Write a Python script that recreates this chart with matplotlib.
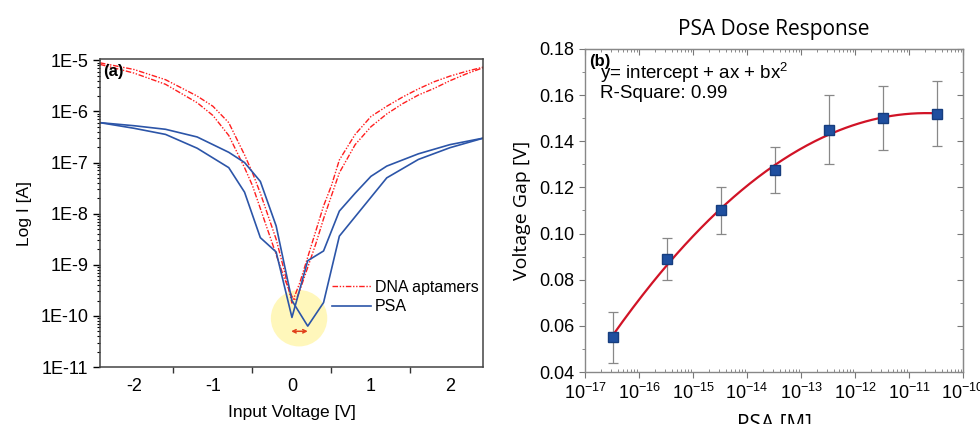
import numpy as np
import matplotlib
matplotlib.use("Agg")
import matplotlib.pyplot as plt
from matplotlib.ticker import FixedLocator, NullFormatter, FuncFormatter, LogLocator, MultipleLocator

plt.rcParams['font.family'] = ['Liberation Sans', 'DejaVu Sans']
plt.rcParams['mathtext.default'] = 'regular'
plt.rcParams['axes.unicode_minus'] = False

# ---- panel (a): I-V sweeps, log10 of current ----
v_blue = [-2.43, -2.0, -1.6, -1.2, -0.8, -0.6, -0.4, -0.2, 0.0, 0.2, 0.4, 0.6, 0.8, 1.0, 1.2, 1.6, 2.0, 2.43]
psa_a = [-6.22, -6.33, -6.45, -6.72, -7.10, -7.58, -8.47, -8.75, -10.03, -8.92, -8.73, -7.95, -7.60, -7.27, -7.07, -6.83, -6.65, -6.52]
psa_b = [-6.22, -6.28, -6.35, -6.50, -6.80, -7.00, -7.37, -8.24, -9.70, -10.20, -9.74, -8.44, -8.06, -7.68, -7.30, -6.94, -6.71, -6.52]

v_red = [-2.43, -2.0, -1.6, -1.2, -1.0, -0.8, -0.6, -0.5, -0.4, -0.3, -0.2, -0.1, 0.0, 0.05, 0.1, 0.2, 0.3, 0.4,
         0.5, 0.6, 0.8, 1.0, 1.2, 1.4, 1.6, 1.8, 2.0, 2.2, 2.43]
dna_a = [-5.05, -5.18, -5.38, -5.70, -5.90, -6.22, -6.85, -7.20, -7.60, -8.05, -8.50, -9.10, -9.75, -9.55, -9.35,
         -8.85, -8.35, -7.85, -7.45, -6.95, -6.45, -6.10, -5.90, -5.72, -5.56, -5.42, -5.31, -5.22, -5.13]
dna_b = [-5.08, -5.25, -5.47, -5.83, -6.08, -6.47, -7.10, -7.45, -7.90, -8.35, -8.80, -9.25, -9.62, -9.70, -9.50,
         -9.05, -8.60, -8.10, -7.65, -7.20, -6.65, -6.30, -6.05, -5.85, -5.68, -5.55, -5.40, -5.27, -5.14]

# ---- panel (b): dose response ----
psa_conc = [3.3e-17, 3.3e-16, 3.3e-15, 3.3e-14, 3.3e-13, 3.3e-12, 3.3e-11]
v_gap = [0.055, 0.089, 0.110, 0.1274, 0.145, 0.150, 0.152]
v_err = [0.011, 0.009, 0.010, 0.010, 0.015, 0.014, 0.014]

fig = plt.figure(figsize=(9.8, 4.24), dpi=100)

# ---------------- left ----------------
ax = fig.add_axes([0.102, 0.1344, 0.391, 0.726])
red = '#ff1f1f'
blue = '#2c55a8'
dash = (0, (4, 1.2, 1, 1.2, 1, 1.2))
ax.plot(v_red, 10 ** np.array(dna_a), color=red, lw=1.0, ls=dash, label='DNA aptamers')
ax.plot(v_red, 10 ** np.array(dna_b), color=red, lw=1.0, ls=dash)
ax.plot(v_blue, 10 ** np.array(psa_a), color=blue, lw=1.2, label='PSA')
ax.plot(v_blue, 10 ** np.array(psa_b), color=blue, lw=1.2)

ax.scatter([0.09], [9e-11], s=1650, color='#fff6b0', alpha=0.85, zorder=0, edgecolors='none')
ax.annotate('', xy=(-0.01, 5e-11), xytext=(0.2, 5e-11),
            arrowprops=dict(arrowstyle='<->', color='#e0401a', lw=1.1, mutation_scale=6,
                            shrinkA=0, shrinkB=0))

ax.set_yscale('log')
ax.set_xlim(-2.43, 2.42)
ax.set_ylim(1e-11, 1.05e-5)
ax.yaxis.set_major_locator(LogLocator(base=10, numticks=10))
ax.yaxis.set_major_formatter(FuncFormatter(lambda y, p: '1E%d' % round(np.log10(y))))
ax.yaxis.set_minor_locator(LogLocator(base=10, subs=np.arange(2, 10), numticks=10))
ax.yaxis.set_minor_formatter(NullFormatter())
ax.set_xticks([-2, -1, 0, 1, 2])
ax.xaxis.set_minor_locator(FixedLocator([-1.5, -0.5, 0.5, 1.5]))
ax.tick_params(axis='x', which='major', length=0, labelsize=13, pad=8)
ax.tick_params(axis='x', which='minor', length=4, direction='out', width=1, color='#333333')
ax.tick_params(axis='y', which='major', length=5, direction='out', labelsize=13, width=1)
ax.tick_params(axis='y', which='minor', length=2.5, direction='out', width=0.8)
for s in ax.spines.values():
    s.set_color('#444444')
    s.set_linewidth(1.1)
ax.set_ylabel('Log I [A]', fontsize=12.5, labelpad=6)
ax.set_xlabel('Input Voltage [V]', fontsize=12.5, labelpad=7)
ax.text(0.008, 0.985, '(a)', transform=ax.transAxes, fontsize=12, fontweight='bold', va='top', ha='left')
ax.legend(loc='upper left', bbox_to_anchor=(0.59, 0.305), frameon=False, fontsize=11.5,
          handlelength=2.4, handletextpad=0.25, labelspacing=0.3, borderaxespad=0)

# ---------------- right ----------------
bx = fig.add_axes([0.597, 0.1226, 0.3857, 0.762])
lx = np.log10(psa_conc)
coef = np.polyfit(lx, v_gap, 2)
xx = np.linspace(lx[0], lx[-1], 200)
bx.plot(10 ** xx, np.polyval(coef, xx), color='#d11326', lw=1.6, zorder=2)
bx.errorbar(psa_conc, v_gap, yerr=v_err, fmt='none', ecolor='#888888', elinewidth=0.9, capsize=3.5,
            capthick=0.9, zorder=1)
bx.plot(psa_conc, v_gap, 's', color='#1f4f9f', mec='#163d7e', ms=6.5, zorder=3)

bx.set_xscale('log')
bx.set_xlim(1e-17, 1e-10)
bx.set_ylim(0.04, 0.18)
bx.yaxis.set_major_locator(MultipleLocator(0.02))
bx.yaxis.set_minor_locator(MultipleLocator(0.01))
bx.yaxis.set_major_formatter(FuncFormatter(lambda y, p: '%.2f' % y))
bx.xaxis.set_major_locator(LogLocator(base=10, numticks=12))
bx.xaxis.set_major_formatter(FuncFormatter(lambda x, p: '$10^{%d}$' % round(np.log10(x))))
bx.xaxis.set_minor_locator(LogLocator(base=10, subs=np.arange(2, 10), numticks=12))
bx.xaxis.set_minor_formatter(NullFormatter())
bx.tick_params(axis='x', which='major', direction='out', length=4, labelsize=13, color='#777777')
bx.tick_params(axis='x', which='minor', direction='in', length=2.5, color='#777777')
bx.tick_params(axis='y', which='major', direction='out', length=4, labelsize=13, color='#777777')
bx.tick_params(axis='y', which='minor', direction='out', length=2.5, color='#777777')
for s in bx.spines.values():
    s.set_color('#888888')
    s.set_linewidth(1.0)

top = bx.secondary_xaxis('top')
top.xaxis.set_major_locator(LogLocator(base=10, numticks=12))
top.xaxis.set_minor_locator(LogLocator(base=10, subs=np.arange(2, 10), numticks=12))
top.xaxis.set_major_formatter(NullFormatter())
top.xaxis.set_minor_formatter(NullFormatter())
top.tick_params(which='major', direction='in', length=4, color='#777777')
top.tick_params(which='minor', direction='in', length=2.5, color='#777777')
top.spines['top'].set_color('#888888')

rgt = bx.secondary_yaxis('right')
rgt.yaxis.set_major_locator(MultipleLocator(0.02))
rgt.yaxis.set_minor_locator(MultipleLocator(0.01))
rgt.yaxis.set_major_formatter(NullFormatter())
rgt.tick_params(which='major', direction='in', length=4, color='#777777')
rgt.tick_params(which='minor', direction='in', length=2.5, color='#777777')
rgt.spines['right'].set_color('#888888')

bx.set_title('PSA Dose Response', fontsize=15, family='Open Sans', pad=10)
bx.set_ylabel('Voltage Gap [V]', fontsize=14, family='Open Sans', labelpad=6)
bx.set_xlabel('PSA [M]', fontsize=15, family='Open Sans', labelpad=8)
bx.text(0.01, 0.985, '(b)', transform=bx.transAxes, fontsize=12, fontweight='bold', va='top', ha='left')
bx.text(0.04, 0.925, 'y= intercept + ax + bx$^2$', transform=bx.transAxes, fontsize=13.5, va='center', ha='left')
bx.text(0.04, 0.862, 'R-Square: 0.99', transform=bx.transAxes, fontsize=13.5, va='center', ha='left')

fig.savefig('out.png', dpi=100)
